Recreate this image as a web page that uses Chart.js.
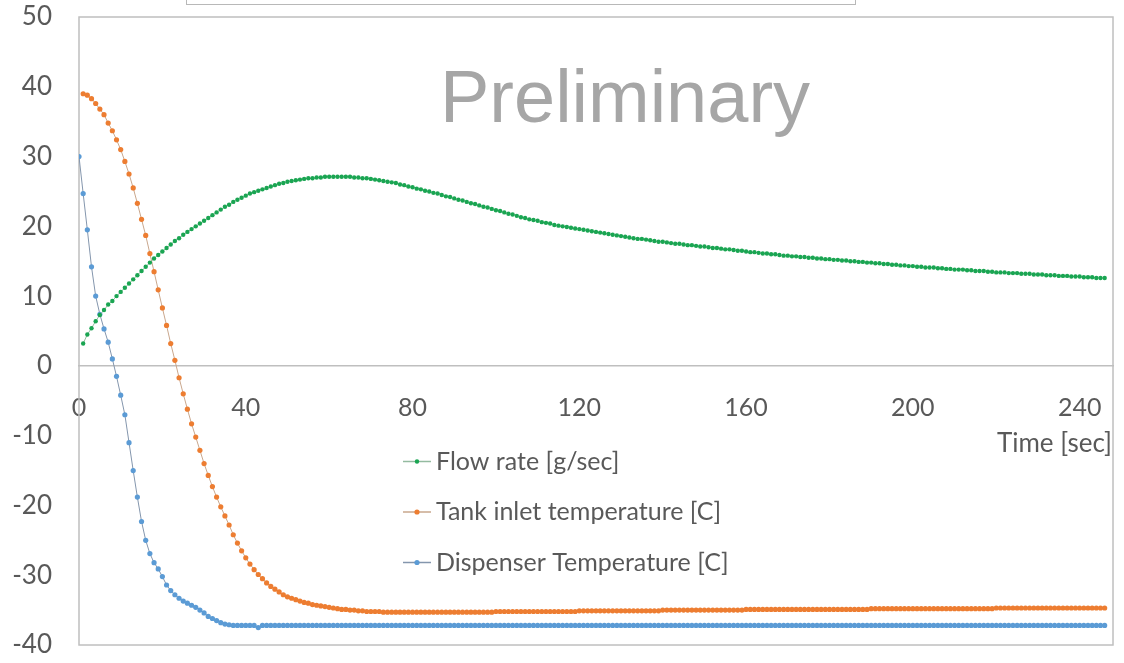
<!DOCTYPE html>
<html>
<head>
<meta charset="utf-8">
<script src="https://cdn.jsdelivr.net/npm/chart.js@4.4.1/dist/chart.umd.min.js"></script>
<style>
  html, body { margin: 0; padding: 0; background: #fff; }
  #wrap { position: relative; width: 1124px; height: 663px; overflow: hidden; }
  #topBox { position: absolute; left: 186px; top: -10px; width: 668px; height: 13px; border: 1.5px solid #b8b8b8; }
</style>
</head>
<body>
<div id="wrap">
  <canvas id="flowChart" width="1124" height="663"></canvas>
  <div id="topBox"></div>
</div>
<script>
/* global Chart:false */

// samples every second, starting at t = 0
var startTime = 0;
var timeStep = 1;

var xTicks = [0, 40, 80, 120, 160, 200, 240];
var yTicks = [-40, -30, -20, -10, 0, 10, 20, 30, 40, 50];

var labels = ["Flow rate [g/sec]", "Tank inlet temperature [C]", "Dispenser Temperature [C]"];

var flowRate = [
  null, 3.2, 4.5, 5.4, 6.4, 7.3, 8.0, 8.8, 9.3, 10.0,
  10.6, 11.2, 11.8, 12.4, 13.0, 13.6, 14.2, 14.8, 15.4, 15.9,
  16.4, 16.9, 17.4, 17.9, 18.3, 18.8, 19.2, 19.6, 20.0, 20.4,
  20.8, 21.2, 21.6, 22.0, 22.4, 22.8, 23.1, 23.5, 23.8, 24.1,
  24.4, 24.7, 24.9, 25.1, 25.3, 25.5, 25.7, 25.9, 26.1, 26.2,
  26.4, 26.5, 26.6, 26.7, 26.8, 26.9, 26.9, 27.0, 27.0, 27.1,
  27.1, 27.1, 27.1, 27.1, 27.1, 27.1, 27.0, 27.0, 26.9, 26.9,
  26.8, 26.7, 26.6, 26.5, 26.4, 26.3, 26.2, 26.0, 25.9, 25.7,
  25.6, 25.4, 25.3, 25.1, 25.0, 24.8, 24.7, 24.5, 24.3, 24.2,
  24.0, 23.8, 23.7, 23.5, 23.3, 23.2, 23.0, 22.8, 22.7, 22.5,
  22.3, 22.2, 22.0, 21.8, 21.7, 21.5, 21.3, 21.2, 21.0, 20.9,
  20.8, 20.6, 20.5, 20.4, 20.2, 20.1, 20.0, 19.9, 19.8, 19.7,
  19.6, 19.5, 19.4, 19.3, 19.2, 19.1, 19.0, 18.9, 18.8, 18.7,
  18.6, 18.5, 18.4, 18.3, 18.2, 18.2, 18.1, 18.0, 17.9, 17.8,
  17.8, 17.7, 17.6, 17.5, 17.5, 17.4, 17.3, 17.3, 17.2, 17.1,
  17.1, 17.0, 16.9, 16.9, 16.8, 16.7, 16.7, 16.6, 16.5, 16.5,
  16.4, 16.3, 16.3, 16.2, 16.1, 16.1, 16.0, 16.0, 15.9, 15.8,
  15.8, 15.7, 15.7, 15.6, 15.6, 15.5, 15.5, 15.4, 15.4, 15.3,
  15.3, 15.2, 15.2, 15.1, 15.1, 15.0, 15.0, 14.9, 14.9, 14.8,
  14.8, 14.7, 14.7, 14.6, 14.6, 14.5, 14.5, 14.4, 14.4, 14.3,
  14.3, 14.2, 14.2, 14.1, 14.1, 14.1, 14.0, 14.0, 13.9, 13.9,
  13.8, 13.8, 13.8, 13.7, 13.7, 13.6, 13.6, 13.6, 13.5, 13.5,
  13.4, 13.4, 13.4, 13.3, 13.3, 13.3, 13.2, 13.2, 13.2, 13.1,
  13.1, 13.1, 13.0, 13.0, 13.0, 12.9, 12.9, 12.9, 12.8, 12.8,
  12.8, 12.7, 12.7, 12.7, 12.6, 12.6, 12.6
];

var tankInlet = [
  null, 39.0, 38.8, 38.3, 37.6, 36.8, 36.0, 34.8, 33.7, 32.4,
  31.0, 29.3, 27.5, 25.5, 23.3, 21.0, 18.7, 16.1, 13.5, 10.9,
  8.3, 5.8, 3.2, 0.8, -1.7, -4.0, -6.2, -8.3, -10.2, -12.1,
  -14.0, -15.7, -17.3, -18.8, -20.2, -21.5, -22.8, -24.2, -25.4, -26.5,
  -27.5, -28.4, -29.2, -29.9, -30.5, -31.1, -31.6, -32.0, -32.4, -32.8,
  -33.1, -33.3, -33.5, -33.7, -33.9, -34.0, -34.2, -34.3, -34.4, -34.5,
  -34.6, -34.7, -34.8, -34.9, -34.9, -35.0, -35.0, -35.1, -35.1, -35.2,
  -35.2, -35.2, -35.2, -35.3, -35.3, -35.3, -35.3, -35.3, -35.3, -35.3,
  -35.3, -35.3, -35.3, -35.3, -35.3, -35.3, -35.3, -35.3, -35.3, -35.3,
  -35.3, -35.3, -35.3, -35.3, -35.3, -35.3, -35.3, -35.3, -35.3, -35.3,
  -35.2, -35.2, -35.2, -35.2, -35.2, -35.2, -35.2, -35.2, -35.2, -35.2,
  -35.2, -35.2, -35.2, -35.2, -35.2, -35.2, -35.2, -35.2, -35.2, -35.2,
  -35.1, -35.1, -35.1, -35.1, -35.1, -35.1, -35.1, -35.1, -35.1, -35.1,
  -35.1, -35.1, -35.1, -35.1, -35.1, -35.1, -35.1, -35.1, -35.1, -35.1,
  -35.0, -35.0, -35.0, -35.0, -35.0, -35.0, -35.0, -35.0, -35.0, -35.0,
  -35.0, -35.0, -35.0, -35.0, -35.0, -35.0, -35.0, -35.0, -35.0, -35.0,
  -34.9, -34.9, -34.9, -34.9, -34.9, -34.9, -34.9, -34.9, -34.9, -34.9,
  -34.9, -34.9, -34.9, -34.9, -34.9, -34.9, -34.9, -34.9, -34.9, -34.9,
  -34.9, -34.9, -34.9, -34.9, -34.9, -34.9, -34.9, -34.9, -34.9, -34.9,
  -34.8, -34.8, -34.8, -34.8, -34.8, -34.8, -34.8, -34.8, -34.8, -34.8,
  -34.8, -34.8, -34.8, -34.8, -34.8, -34.8, -34.8, -34.8, -34.8, -34.8,
  -34.8, -34.8, -34.8, -34.8, -34.8, -34.8, -34.8, -34.8, -34.8, -34.8,
  -34.7, -34.7, -34.7, -34.7, -34.7, -34.7, -34.7, -34.7, -34.7, -34.7,
  -34.7, -34.7, -34.7, -34.7, -34.7, -34.7, -34.7, -34.7, -34.7, -34.7,
  -34.7, -34.7, -34.7, -34.7, -34.7, -34.7, -34.7
];

var dispenserTemp = [
  30.0, 24.7, 19.5, 14.2, 10.0, 7.4, 5.3, 3.4, 1.0, -1.5,
  -4.2, -7.0, -11.0, -15.0, -18.8, -22.3, -25.0, -26.9, -28.2, -29.1,
  -30.2, -31.4, -32.2, -32.8, -33.3, -33.7, -34.0, -34.3, -34.6, -35.0,
  -35.4, -35.9, -36.2, -36.5, -36.8, -37.0, -37.1, -37.2, -37.2, -37.2,
  -37.2, -37.2, -37.2, -37.5, -37.2, -37.2, -37.2, -37.2, -37.2, -37.2,
  -37.2, -37.2, -37.2, -37.2, -37.2, -37.2, -37.2, -37.2, -37.2, -37.2,
  -37.2, -37.2, -37.2, -37.2, -37.2, -37.2, -37.2, -37.2, -37.2, -37.2,
  -37.2, -37.2, -37.2, -37.2, -37.2, -37.2, -37.2, -37.2, -37.2, -37.2,
  -37.2, -37.2, -37.2, -37.2, -37.2, -37.2, -37.2, -37.2, -37.2, -37.2,
  -37.2, -37.2, -37.2, -37.2, -37.2, -37.2, -37.2, -37.2, -37.2, -37.2,
  -37.2, -37.2, -37.2, -37.2, -37.2, -37.2, -37.2, -37.2, -37.2, -37.2,
  -37.2, -37.2, -37.2, -37.2, -37.2, -37.2, -37.2, -37.2, -37.2, -37.2,
  -37.2, -37.2, -37.2, -37.2, -37.2, -37.2, -37.2, -37.2, -37.2, -37.2,
  -37.2, -37.2, -37.2, -37.2, -37.2, -37.2, -37.2, -37.2, -37.2, -37.2,
  -37.2, -37.2, -37.2, -37.2, -37.2, -37.2, -37.2, -37.2, -37.2, -37.2,
  -37.2, -37.2, -37.2, -37.2, -37.2, -37.2, -37.2, -37.2, -37.2, -37.2,
  -37.2, -37.2, -37.2, -37.2, -37.2, -37.2, -37.2, -37.2, -37.2, -37.2,
  -37.2, -37.2, -37.2, -37.2, -37.2, -37.2, -37.2, -37.2, -37.2, -37.2,
  -37.2, -37.2, -37.2, -37.2, -37.2, -37.2, -37.2, -37.2, -37.2, -37.2,
  -37.2, -37.2, -37.2, -37.2, -37.2, -37.2, -37.2, -37.2, -37.2, -37.2,
  -37.2, -37.2, -37.2, -37.2, -37.2, -37.2, -37.2, -37.2, -37.2, -37.2,
  -37.2, -37.2, -37.2, -37.2, -37.2, -37.2, -37.2, -37.2, -37.2, -37.2,
  -37.2, -37.2, -37.2, -37.2, -37.2, -37.2, -37.2, -37.2, -37.2, -37.2,
  -37.2, -37.2, -37.2, -37.2, -37.2, -37.2, -37.2, -37.2, -37.2, -37.2,
  -37.2, -37.2, -37.2, -37.2, -37.2, -37.2, -37.2
];

var textColor = "#595959";
var frameColor = "#bfbfbf";
var labelFont = "Lato";

function toPoints(values) {
  return values.map(function (v, i) {
    return { x: startTime + i * timeStep, y: v };
  });
}

// no extra room for half tick labels, the plot box is fixed by the layout padding
function noScalePadding(scale) {
  scale.paddingTop = 0;
  scale.paddingBottom = 0;
  scale.paddingLeft = 0;
  scale.paddingRight = 0;
}

// legend, axis title and the watermark sit inside the plot like in the Excel sheet
var plotExtras = {
  id: "plotExtras",
  beforeDatasetsDraw: function (chart) {
    var ctx = chart.ctx;
    var a = chart.chartArea;
    ctx.save();
    ctx.strokeStyle = frameColor;
    ctx.lineWidth = 1.5;
    ctx.strokeRect(a.left, a.top, a.right - a.left, a.bottom - a.top);
    ctx.restore();
  },
  afterDraw: function (chart) {
    var ctx = chart.ctx;
    var a = chart.chartArea;
    ctx.save();

    ctx.font = "74px 'Liberation Sans', Arial, sans-serif";
    ctx.fillStyle = "#a6a6a6";
    ctx.textBaseline = "alphabetic";
    ctx.textAlign = "left";
    ctx.fillText("Preliminary", 440, 122);

    ctx.font = "26px " + labelFont;
    ctx.fillStyle = textColor;
    ctx.textAlign = "right";
    ctx.textBaseline = "middle";
    ctx.fillText("Time [sec]", a.right - 1, 444);

    ctx.font = "25px " + labelFont;
    ctx.textAlign = "left";
    chart.data.datasets.forEach(function (ds, i) {
      var y = 461.5 + i * 50.5;
      var x0 = 403;
      ctx.strokeStyle = ds.borderColor;
      ctx.lineWidth = 1.5;
      ctx.beginPath();
      ctx.moveTo(x0, y);
      ctx.lineTo(x0 + 28, y);
      ctx.stroke();
      ctx.fillStyle = ds.pointBackgroundColor;
      ctx.beginPath();
      ctx.arc(x0 + 14, y, ds.pointRadius, 0, Math.PI * 2);
      ctx.fill();
      ctx.fillStyle = textColor;
      ctx.fillText(ds.label, x0 + 33, y);
    });
    ctx.restore();
  },
};

function createChart() {
  var ctx = document.getElementById("flowChart").getContext("2d");
  return new Chart(ctx, {
    type: "line",
    data: {
      datasets: [
        {
          label: labels[0],
          data: toPoints(flowRate),
          borderColor: "#94bba0",
          borderWidth: 1,
          pointBackgroundColor: "#1aa552",
          pointBorderWidth: 0,
          pointRadius: 2.2,
          tension: 0,
        },
        {
          label: labels[1],
          data: toPoints(tankInlet),
          borderColor: "#c9a78d",
          borderWidth: 1,
          pointBackgroundColor: "#ed7d31",
          pointBorderWidth: 0,
          pointRadius: 2.6,
          tension: 0,
        },
        {
          label: labels[2],
          data: toPoints(dispenserTemp),
          borderColor: "#8496ad",
          borderWidth: 1,
          pointBackgroundColor: "#5b9bd5",
          pointBorderWidth: 0,
          pointRadius: 2.6,
          tension: 0,
        },
      ],
    },
    options: {
      responsive: false,
      animation: false,
      layout: {
        padding: { top: 17, right: 11, bottom: 18, left: 0 },
      },
      plugins: {
        legend: { display: false },
        tooltip: { enabled: false },
      },
      scales: {
        x: {
          type: "linear",
          min: 0,
          max: 248,
          position: { y: 0 },
          afterFit: function (scale) {
            scale.height = 0;
            noScalePadding(scale);
          },
          afterBuildTicks: function (scale) {
            scale.ticks = xTicks.map(function (v) {
              return { value: v };
            });
          },
          grid: { drawOnChartArea: false, drawTicks: false },
          border: { display: true, color: frameColor, width: 1.5 },
          ticks: {
            color: textColor,
            font: { family: labelFont, size: 25 },
            padding: 27,
            maxRotation: 0,
            autoSkip: false,
          },
        },
        y: {
          type: "linear",
          min: -40,
          max: 50,
          afterFit: function (scale) {
            scale.width = 79;
            noScalePadding(scale);
          },
          afterBuildTicks: function (scale) {
            scale.ticks = yTicks.map(function (v) {
              return { value: v };
            });
          },
          grid: { drawOnChartArea: false, drawTicks: false },
          border: { display: false },
          ticks: {
            color: textColor,
            font: { family: labelFont, size: 26 },
            padding: 27,
          },
        },
      },
    },
    plugins: [plotExtras],
  });
}

createChart();
</script>
</body>
</html>
